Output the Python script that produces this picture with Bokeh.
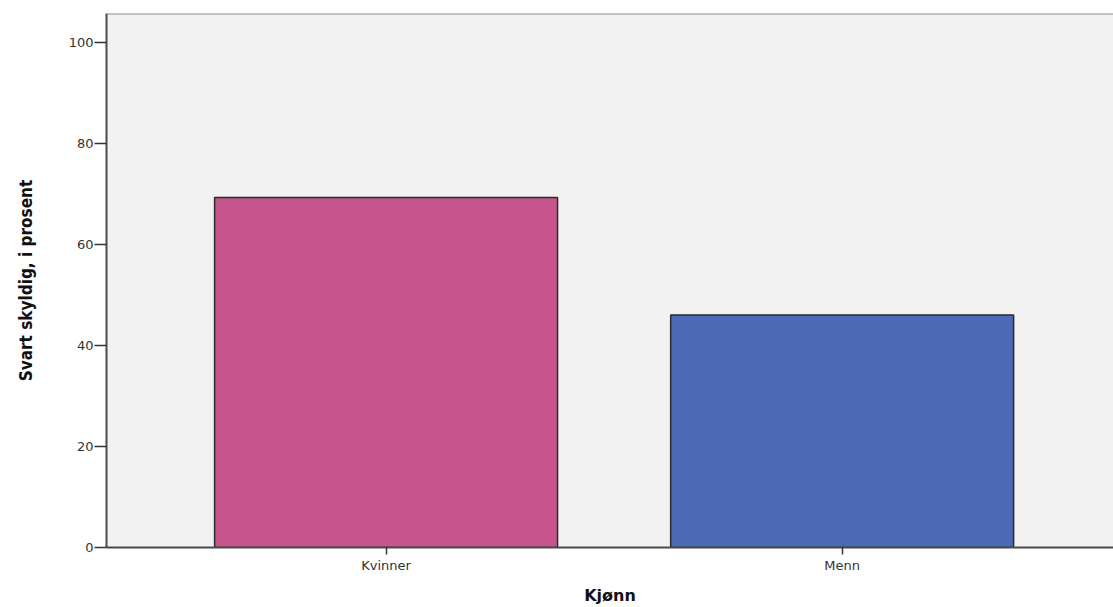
from bokeh.plotting import figure
from bokeh.models import ColumnDataSource, FixedTicker, Range1d, Span
from bokeh.embed import file_html
from bokeh.resources import INLINE

categories = ["Kvinner", "Menn"]
values = [69.3, 46.0]
colors = ["#c5558c", "#4c6ab8"]
y_ticks = [0, 20, 40, 60, 80, 100]

xpos = list(range(len(categories)))
src = ColumnDataSource(dict(x=xpos, top=values, color=colors))

p = figure(width=1113, height=607, output_backend="svg", toolbar_location=None,
           x_range=Range1d(-0.613, 1.595), y_range=Range1d(0, 105.7),
           min_border_left=106, min_border_top=13, min_border_bottom=56, min_border_right=0)

p.vbar(x="x", top="top", width=0.752, bottom=0, fill_color="color",
       line_color="#2b2b2b", line_width=1.5, source=src)

p.background_fill_color = "#f2f2f2"
p.border_fill_color = "white"
p.outline_line_color = None
p.add_layout(Span(location=105.7, dimension="width", line_color="#8c8c8c", line_width=2))
p.xgrid.grid_line_color = None
p.ygrid.grid_line_color = None

p.yaxis.ticker = FixedTicker(ticks=y_ticks)
p.yaxis.minor_tick_line_color = None
p.yaxis.major_tick_out = 12
p.yaxis.major_tick_in = 0
p.yaxis.axis_line_color = "#4a4a4a"
p.yaxis.axis_line_width = 2
p.yaxis.major_tick_line_color = "#333333"
p.yaxis.major_tick_line_width = 1.5
p.yaxis.major_label_text_font = "DejaVu Sans"
p.yaxis.major_label_text_font_size = "13px"
p.yaxis.major_label_text_color = "#333333"
p.yaxis.major_label_standoff = 1
p.yaxis.axis_label = "Svart skyldig, i prosent"
p.yaxis.axis_label_text_font = "DejaVu Sans Condensed"
p.yaxis.axis_label_text_font_style = "bold"
p.yaxis.axis_label_text_font_size = "17px"
p.yaxis.axis_label_text_color = "#111111"
p.yaxis.axis_label_standoff = 30

p.xaxis.ticker = FixedTicker(ticks=xpos)
p.xaxis.major_label_overrides = {i: c for i, c in enumerate(categories)}
p.xaxis.minor_tick_line_color = None
p.xaxis.major_tick_out = 7
p.xaxis.major_tick_in = 0
p.xaxis.axis_line_color = "#4a4a4a"
p.xaxis.axis_line_width = 2
p.xaxis.major_tick_line_color = "#333333"
p.xaxis.major_tick_line_width = 1.5
p.xaxis.major_label_text_font = "DejaVu Sans"
p.xaxis.major_label_text_font_size = "13px"
p.xaxis.major_label_text_color = "#333333"
p.xaxis.major_label_standoff = 3
p.xaxis.axis_label = "Kjønn"
p.xaxis.axis_label_text_font = "DejaVu Sans"
p.xaxis.axis_label_text_font_style = "bold"
p.xaxis.axis_label_text_font_size = "16px"
p.xaxis.axis_label_text_color = "#111111"
p.xaxis.axis_label_standoff = 10

open("out.html", "w").write(file_html(p, INLINE))
